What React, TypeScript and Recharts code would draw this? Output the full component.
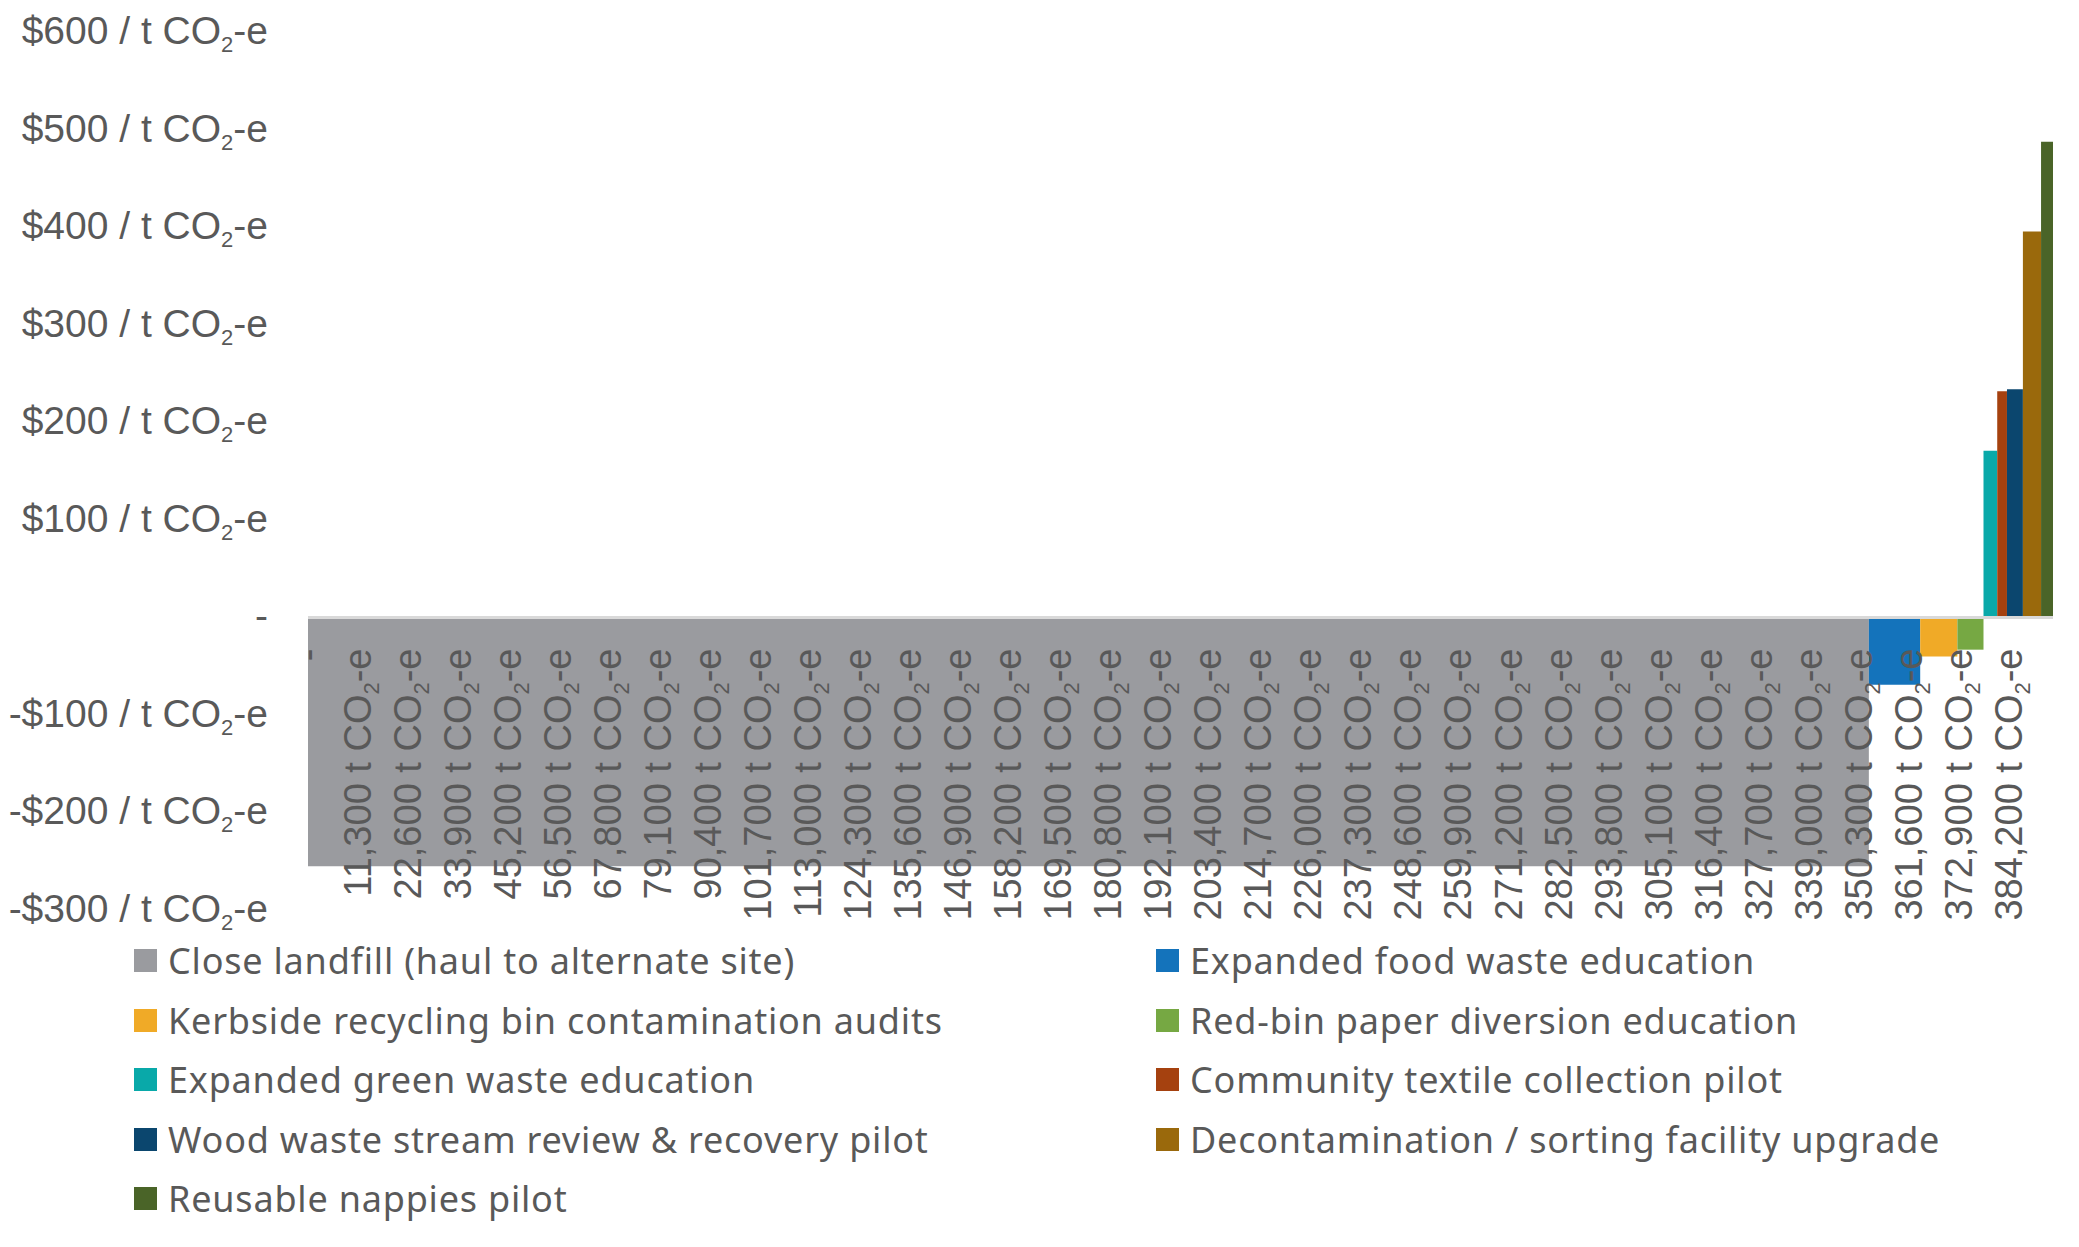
import { ComposedChart, Area, XAxis, YAxis, ReferenceLine } from 'recharts'

const MEASURES = [
  'Close landfill (haul to alternate site)',
  'Expanded food waste education',
  'Kerbside recycling bin contamination audits',
  'Red-bin paper diversion education',
  'Expanded green waste education',
  'Community textile collection pilot',
  'Wood waste stream review & recovery pilot',
  'Decontamination / sorting facility upgrade',
  'Reusable nappies pilot',
]
// abatement (t CO2-e) = bar width
const ABATEMENT = [352600, 11600, 8400, 5900, 3100, 2200, 3600, 4100, 2700]
// cost ($ / t CO2-e) = bar height
const COST = [-255, -69, -40, -33, 171, 232, 234, 396, 488]
const COLORS = ['#9a9b9f', '#1473bb', '#f0aa27', '#76a843', '#09a9a9', '#a5410f', '#0b466e', '#9a690c', '#4a6428']

const X_TICKS = [
  0, 11300, 22600, 33900, 45200, 56500, 67800, 79100, 90400, 101700, 113000, 124300,
  135600, 146900, 158200, 169500, 180800, 192100, 203400, 214700, 226000, 237300,
  248600, 259900, 271200, 282500, 293800, 305100, 316400, 327700, 339000, 350300,
  361600, 372900, 384200,
]
const Y_TICKS = [-300, -200, -100, 0, 100, 200, 300, 400, 500, 600]

const W = 2079
const H = 1247
const TOP = 32.5
const BOTTOM = 910
const ZERO_Y = TOP + ((BOTTOM - TOP) * 600) / 900
const TEXT = '#595959'
const AXIS_FONT = '"Liberation Sans", Arial, sans-serif'

const total = ABATEMENT.reduce((a, b) => a + b, 0)

// two rows per measure (start, end) so every Area becomes one rectangle
const rows: Record<string, number>[] = []
let cum = 0
ABATEMENT.forEach((w, i) => {
  rows.push({ x: cum, ['m' + i]: COST[i] })
  cum += w
  rows.push({ x: cum, ['m' + i]: COST[i] })
})

function YTick({ x, y, payload }: any) {
  const v = payload.value
  const common = { x, y, dy: '0.3em', textAnchor: 'end' as const, fill: TEXT, fontSize: 39, fontFamily: AXIS_FONT }
  if (v === 0) return <text {...common}>-</text>
  return (
    <text {...common}>
      {(v < 0 ? '-' : '') + '$' + Math.abs(v) + ' / t CO'}
      <tspan dy={8} fontSize={22}>2</tspan>
      <tspan dy={-8}>-e</tspan>
    </text>
  )
}

function XTick({ x, payload }: any) {
  const v = payload.value
  const tf = `translate(${x + 13},${ZERO_Y + 31}) rotate(-90)`
  const common = { transform: tf, textAnchor: 'end' as const, fill: TEXT, fontSize: 38, fontFamily: AXIS_FONT }
  if (v === 0) return <text {...common}>-</text>
  return (
    <text {...common}>
      {v.toLocaleString('en-US') + ' t CO'}
      <tspan dy={8} fontSize={22}>2</tspan>
      <tspan dy={-8}>-e</tspan>
    </text>
  )
}

export default function App() {
  return (
    <div style={{ position: 'absolute', left: 0, top: 0, width: W, height: H, background: '#fff' }}>
      <ComposedChart width={W} height={H} data={rows} margin={{ top: TOP, right: 26, bottom: H - BOTTOM - 1, left: 0 }}>
        <XAxis
          dataKey="x"
          type="number"
          domain={[0, total]}
          ticks={X_TICKS}
          interval={0}
          height={1}
          axisLine={false}
          tickLine={false}
          tick={<XTick />}
        />
        <YAxis
          type="number"
          domain={[-300, 600]}
          ticks={Y_TICKS}
          interval={0}
          width={308}
          axisLine={false}
          tickLine={false}
          tickSize={0}
          tickMargin={40}
          tick={<YTick />}
        />
        {MEASURES.map((name, i) => (
          <Area
            key={name}
            name={name}
            dataKey={'m' + i}
            type="linear"
            baseValue={0}
            fill={COLORS[i]}
            fillOpacity={1}
            stroke="none"
            dot={false}
            activeDot={false}
            connectNulls={false}
            isAnimationActive={false}
          />
        ))}
        <ReferenceLine y={0} stroke="#d9d9d9" strokeWidth={3} />
      </ComposedChart>
      <div
        style={{
          position: 'absolute',
          left: 134,
          top: 931,
          display: 'grid',
          gridTemplateColumns: '1022px 900px',
          fontFamily: '"Noto Sans", sans-serif',
          fontSize: 36,
          letterSpacing: 0.8,
          color: TEXT,
        }}
      >
        {MEASURES.map((name, i) => (
          <div key={name} style={{ display: 'flex', alignItems: 'center', height: 59.5, whiteSpace: 'nowrap' }}>
            <div style={{ width: 23, height: 23, background: COLORS[i], marginRight: 11, flexShrink: 0 }} />
            <span>{name}</span>
          </div>
        ))}
      </div>
    </div>
  )
}
